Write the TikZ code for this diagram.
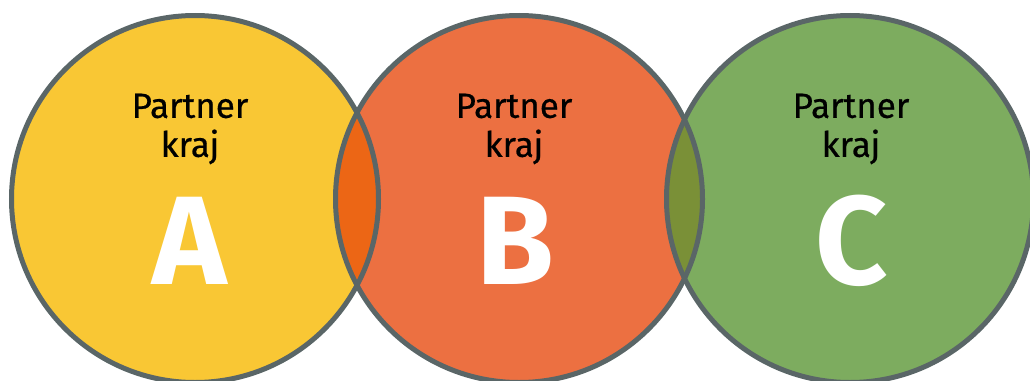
\documentclass[tikz,border=0pt]{standalone}
\usepackage{fontspec}
\setmainfont{Fira Sans}
\newfontfamily\lblfont[FakeBold=0.6]{Fira Sans}
\definecolor{cA}{HTML}{F9C734}
\definecolor{cB}{HTML}{EC7041}
\definecolor{cC}{HTML}{7DAC5F}
\definecolor{cAB}{HTML}{EC6615}
\definecolor{cBC}{HTML}{7A9037}
\definecolor{ring}{HTML}{5A6667}
\begin{document}
\begin{tikzpicture}[x=1pt,y=-1pt,
  disc/.style={circle, minimum size=367pt, inner sep=0pt, outer sep=0pt},
  ringline/.style={draw=ring, line width=5pt},
  lbl/.style={font=\lblfont\fontsize{35}{39}\selectfont, align=center, text=black, inner sep=0pt},
  big/.style={font=\fontsize{126}{126}\selectfont\bfseries, text=white, inner sep=0pt, anchor=base}]
\useasboundingbox (0,0) rectangle (1030,380);
\node[disc, fill=cA] (A) at (195,199) {};
\node[disc, fill=cB] (B) at (519,199) {};
\node[disc, fill=cC] (C) at (850,199) {};
\begin{scope}
  \clip (A.center) circle[radius=183.5pt];
  \fill[cAB] (B.center) circle[radius=183.5pt];
\end{scope}
\begin{scope}
  \clip (B.center) circle[radius=183.5pt];
  \fill[cBC] (C.center) circle[radius=183.5pt];
\end{scope}
\draw[ringline] (A.center) circle[radius=183.5pt];
\draw[ringline] (B.center) circle[radius=183.5pt];
\draw[ringline] (C.center) circle[radius=183.5pt];
\node[lbl] (tA) at (190,129) {Partner\\kraj};
\node[lbl] (tB) at (514,129) {Partner\\kraj};
\node[lbl] (tC) at (851,129) {Partner\\kraj};
\node[big] (lA) at (190,284) {A};
\node[big] (lB) at (515,284) {B};
\node[big] (lC) at (852,284) {C};
\end{tikzpicture}
\end{document}
